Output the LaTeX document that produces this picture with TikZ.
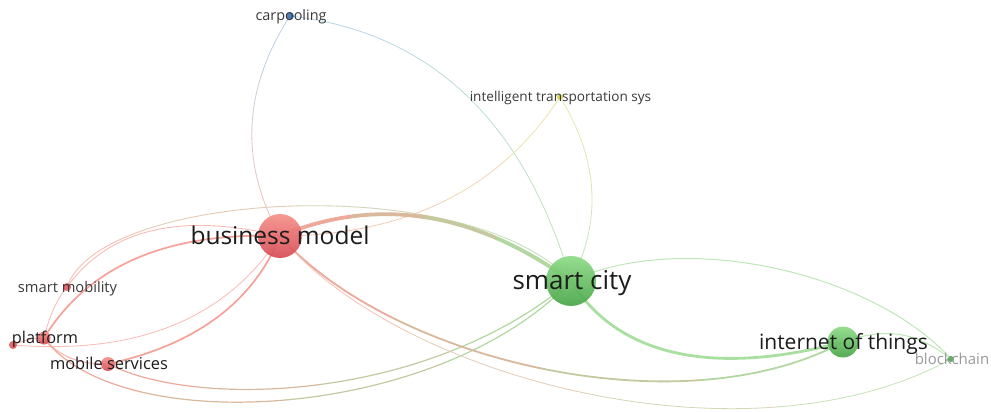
\documentclass[tikz,border=0pt]{standalone}
\usepackage{fontspec}
\setmainfont{Open Sans}
\usetikzlibrary{calc}
\pgfdeclarelayer{bg}
\pgfsetlayers{bg,main}
\definecolor{redtop}{HTML}{F5918A}
\definecolor{redbot}{HTML}{D64B55}
\definecolor{grntop}{HTML}{8EDB87}
\definecolor{grnbot}{HTML}{48A548}
\definecolor{redsm}{HTML}{E35F63}
\definecolor{bluen}{HTML}{3E78B5}
\definecolor{yelln}{HTML}{D6D345}
\definecolor{grnsm}{HTML}{4CAF50}
\definecolor{txtd}{HTML}{1C1C1C}
\definecolor{txtm}{HTML}{3A3A3A}
\definecolor{txtg}{HTML}{9A9A9A}
% edge end colours
\definecolor{cR}{HTML}{F6A199}
\definecolor{cG}{HTML}{AADFA2}
\definecolor{cB}{HTML}{A6C7EA}
\definecolor{cY}{HTML}{E4E59A}
\colorlet{cRt}{cR!72!white}
\colorlet{cGt}{cG!75!white}
\colorlet{cBt}{cB!80!white}
\colorlet{cYt}{cY!80!white}
\tikzset{
  bubble/.style={circle, inner sep=0pt, minimum size=#1, fill opacity=0.92, draw=none},
  redbub/.style={bubble=#1, top color=redtop, bottom color=redbot},
  grnbub/.style={bubble=#1, top color=grntop, bottom color=grnbot},
  lbl/.style={anchor=base, inner sep=0pt, font=\fontsize{#1}{#1}\selectfont},
  link/.style={line cap=round, line width=#1},
}
% de Casteljau split of a cubic at t=1/2
\newcommand\bsplit[5]{%
  \path ($(#1)!.5!(#2)$) coordinate (#5a) ($(#2)!.5!(#3)$) coordinate (#5b) ($(#3)!.5!(#4)$) coordinate (#5c);
  \path ($(#5a)!.5!(#5b)$) coordinate (#5d) ($(#5b)!.5!(#5c)$) coordinate (#5e);
  \path ($(#5d)!.5!(#5e)$) coordinate (#5m);}
% gradient edge: width, colour at start, colour at end, from node, control 1, control 2, to node
\newcommand\gedge[7]{%
  \path (#4.center) coordinate (g0) (#5) coordinate (g1) (#6) coordinate (g2) (#7.center) coordinate (g3);
  \bsplit{g0}{g1}{g2}{g3}{h}
  \bsplit{g0}{ha}{hd}{hm}{l}
  \bsplit{hm}{he}{hc}{g3}{r}
  \draw[link=#1, #2!88!#3] (g0) .. controls (la) and (ld) .. (lm);
  \draw[link=#1, #2!63!#3] (lm) .. controls (le) and (lc) .. (hm);
  \draw[link=#1, #2!37!#3] (hm) .. controls (ra) and (rd) .. (rm);
  \draw[link=#1, #2!12!#3] (rm) .. controls (re) and (rc) .. (g3);}
% quadratic-style gradient edge: width, colA, colB, from, apex control, to
\newcommand\gqedge[6]{\gedge{#1}{#2}{#3}{#4}{$(#4.center)!0.6667!(#5)$}{$(#6.center)!0.6667!(#5)$}{#6}}
\begin{document}
\begin{tikzpicture}[x=1pt,y=-1pt]
\useasboundingbox (0,0) rectangle (991,412);
% bubbles
\node[redbub=44pt] (bm) at (280,236) {};
\node[grnbub=50pt] (sc) at (571,281) {};
\node[grnbub=31pt] (iot) at (843,342) {};
\node[bubble=6pt, fill=grnsm] (bc) at (951,359) {};
\node[bubble=8pt, fill=bluen] (cp) at (290,16) {};
\node[bubble=6pt, fill=yelln] (its) at (560,97) {};
\node[bubble=8pt, fill=redsm] (sm) at (67,287) {};
\node[redbub=13pt] (pf) at (44,338) {};
\node[bubble=8pt, fill=redsm] (dt) at (13,345) {};
\node[redbub=14pt] (ms) at (108,364) {};
% edges
\begin{pgfonlayer}{bg}
\fill[white] (0,0) rectangle (991,412);
\gqedge{0.8}{cRt}{cBt}{bm}{219,126}{cp}
\gqedge{0.8}{cBt}{cGt}{cp}{500,40}{sc}
\gqedge{0.8}{cYt}{cGt}{its}{618,191}{sc}
\gqedge{0.8}{cYt}{cRt}{its}{470,235}{bm}
\gedge{0.9}{cRt}{cGt}{sm}{100,190}{470,170}{sc}
\gqedge{1.7}{cR}{cR}{pf}{110,230}{bm}
\gqedge{0.9}{cRt}{cRt}{sm}{130,200}{bm}
\gqedge{0.8}{cRt}{cRt}{sm}{52,305}{pf}
\gqedge{1.0}{cRt}{cRt}{dt}{28,338}{pf}
\gqedge{0.8}{cRt}{cRt}{dt}{200,360}{bm}
\gqedge{1.7}{cR}{cR}{ms}{240,335}{bm}
\gqedge{1.2}{cRt}{cRt}{pf}{65,365}{ms}
\gedge{1.2}{cR}{cG}{ms}{200,410}{430,400}{sc}
\gedge{1.2}{cR}{cG}{pf}{120,440}{440,420}{sc}
\gedge{1.8}{cR}{cG}{bm}{390,360}{680,430}{iot}
\gedge{0.8}{cRt}{cGt}{bm}{400,380}{750,470}{bc}
\gqedge{3.8}{cR}{cG}{bm}{425,176}{sc}
\gedge{2.8}{cG}{cG}{sc}{620,360}{720,375}{iot}
\gedge{1.0}{cGt}{cGt}{sc}{680,230}{870,270}{bc}
\gedge{1.0}{cGt}{cGt}{iot}{890,325}{920,335}{bc}
\end{pgfonlayer}
% labels
\node[lbl=24.5, text=txtd] (bmL) at (280,244.3) {business model};
\node[lbl=26, text=txtd] (scL) at (572,289.8) {smart city};
\node[lbl=21, text=txtd] (iotL) at (843.5,349.1) {internet of things};
\node[lbl=16.4, text=txtd] (msL) at (109,369.6) {mobile services};
\node[lbl=16.3, text=txtd] (pfL) at (45,343.5) {platform};
\node[lbl=14.7, text=txtm] (smL) at (67.5,292) {smart mobility};
\node[lbl=14.4, text=txtm] (cpL) at (291,20.9) {carpooling};
\node[lbl=13.6, text=txtm] (itsL) at (560.5,101.6) {intelligent transportation sys};
\node[lbl=15, text=txtg] (bcL) at (952,364) {blockchain};
\end{tikzpicture}
\end{document}
